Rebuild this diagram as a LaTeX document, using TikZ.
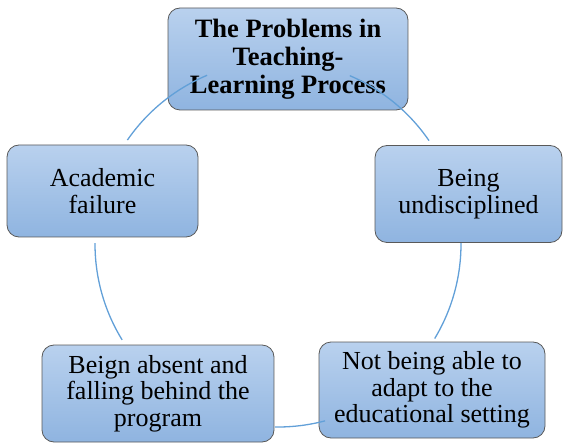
\documentclass[tikz,border=0pt]{standalone}
\usepackage{fontspec}
\setmainfont{Liberation Serif}
\newfontfamily\tnr{Liberation Serif}
\begin{document}
\begin{tikzpicture}[x=1pt,y=-1pt,
  box/.style={draw=black!65, line width=0.8pt, rounded corners=12pt,
    top color=boxtop, bottom color=boxbot, align=center,
    font=\tnr\fontsize{26}{26.5}\selectfont, inner sep=0pt},
  ring/.style={draw=ringblue, line width=1.3pt}]
\definecolor{boxtop}{HTML}{B9D1EE}
\definecolor{boxbot}{HTML}{8FB4E0}
\definecolor{ringblue}{HTML}{62A0D8}
\useasboundingbox (0,0) rectangle (564,443);
\coordinate (c) at (278,244);
\node[box, minimum width=240pt, minimum height=102pt, font=\tnr\bfseries\fontsize{26.5}{28}\selectfont] (top) at (288,59) {The Problems in\\Teaching-\\Learning Process};
\node[box, minimum width=191pt, minimum height=92pt] (left) at (102.5,191) {Academic\\failure};
\node[box, minimum width=187pt, minimum height=97pt] (right) at (468.5,194) {Being\\undisciplined};
\node[box, minimum width=232pt, minimum height=97pt] (bl) at (158,393.5) {Beign absent and\\falling behind the\\program};
\node[box, minimum width=226pt, minimum height=96pt] (br) at (432,390) {Not being able to\\adapt to the\\educational setting};
\draw[ring] (c) ++(-145.4:183) arc[start angle=-145.4, end angle=-112.8, radius=183];
\draw[ring] (c) ++(-66.9:183) arc[start angle=-66.9, end angle=-34.4, radius=183];
\draw[ring] (c) ++(-0.3:183) arc[start angle=-0.3, end angle=31.1, radius=183];
\draw[ring] (c) ++(91:183) arc[start angle=91, end angle=75.1, radius=183];
\draw[ring] (c) ++(-179.7:183) arc[start angle=-179.7, end angle=-211.6, radius=183];
\end{tikzpicture}
\end{document}
